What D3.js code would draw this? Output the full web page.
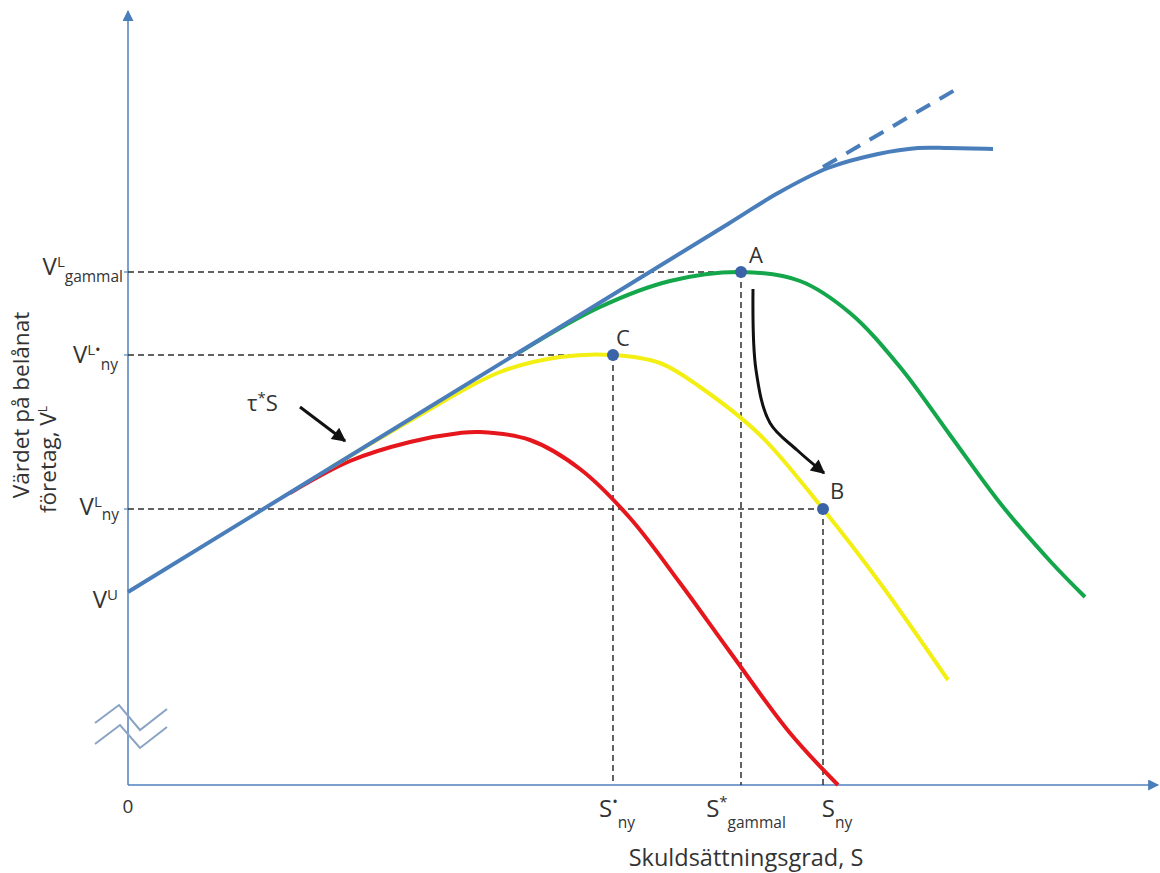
<!DOCTYPE html>
<html><head><meta charset="utf-8">
<script src="https://cdn.jsdelivr.net/npm/d3@7"></script>
<style>body{margin:0;background:#fff;} text{font-family:"Open Sans",sans-serif;fill:#333;}</style>
</head><body>
<svg id="chart" width="1160" height="873"></svg>
<script>
// ---------- data (S = debt ratio, V = firm value), arbitrary units ----------
const blueCurve   = [[0,19.3],[30,37.7],[60,56.1],[65,59.2],[70,61.7],[75,63.1],[79,63.7],[82,63.7],[86.5,63.6]];
const blueDashed  = [[69.5,61.8],[83.2,69.8]];
const greenCurve  = [[39.2,43.3],[47.2,47.8],[54.2,50.4],[61.3,51.3],[67.2,50.4],[72.2,47.2],[77.2,41.8],[82.2,35.0],[87.2,28.2],[92.2,22.4],[95.7,18.8]];
const yellowCurve = [[20.2,31.7],[29.2,37.0],[37.2,41.3],[43.2,42.8],[48.5,43.0],[53.2,42.2],[57.2,39.8],[63.2,35.0],[69.5,27.6],[75.2,20.2],[82.0,10.5]];
const redCurve    = [[16.2,29.2],[22.2,32.4],[28.2,34.3],[33.2,35.2],[35.2,35.3],[40.2,34.5],[45.2,31.6],[50.2,26.7],[55.2,20.2],[60.2,13.3],[66.2,5.2],[71.0,0]];
const pointNames  = ["A","C","B"];
const pointS      = [61.3,48.5,69.5];
const pointV      = [51.3,43.0,27.6];
const arrowAB     = [[62.5,49.6],[62.8,41.5],[64.2,36.2],[66.9,33.5],[69.6,31.2]];
const arrowTau    = [[17.2,37.8],[21.7,34.4]];
const breakMark1  = [[-3.3,6.2],[-0.9,8.0],[1.2,5.5],[3.9,7.6]];
const breakMark2  = [[-3.3,4.1],[-0.8,6.0],[1.2,3.7],[3.9,5.8]];
const yTickValues = [51.3, 43.0, 27.6, 19.3];
const yTickMain   = ["V","V","V","V"];
const yTickSup    = ["L","L•","L","U"];
const yTickSub    = ["gammal","ny","ny",""];
const xTickValues = [0, 48.5, 61.3, 69.5];
const xTickMain   = ["0","S","S","S"];
const xTickSup    = ["","•","*",""];
const xTickSub    = ["","ny","gammal","ny"];
const xTitle      = "Skuldsättningsgrad, S";
const yTitle1     = "Värdet på belånat";
const yTitle2     = "företag, V";
const yTitle2Sup  = "L";
const tauLabel    = ["τ","*","S"];

// ---------- scales ----------
const svg = d3.select("#chart");
const x = d3.scaleLinear().domain([0,102]).range([128,1148]);
const y = d3.scaleLinear().domain([0,77]).range([785,15]);

const defs = svg.append("defs");
function marker(id, color, w, h){
  defs.append("marker").attr("id",id).attr("viewBox","0 0 10 10").attr("refX",9).attr("refY",5)
    .attr("markerUnits","userSpaceOnUse").attr("markerWidth",w).attr("markerHeight",h).attr("orient","auto")
    .append("path").attr("d","M0,0L10,5L0,10Z").attr("fill",color);
}
marker("axArrow","#4a7ebb",13,11);
marker("blkArrow","#111",16,14);

const line = d3.line().x(d=>x(d[0])).y(d=>y(d[1])).curve(d3.curveCatmullRom.alpha(0.5));
const lineL = d3.line().x(d=>x(d[0])).y(d=>y(d[1]));

// axes
svg.append("line").attr("x1",x(0)).attr("y1",y(0)).attr("x2",x(0)).attr("y2",y(77)-4)
  .attr("stroke","#4f81bd").attr("stroke-width",1.5).attr("marker-end","url(#axArrow)");
svg.append("line").attr("x1",x(0)).attr("y1",y(0)).attr("x2",x(102)+10).attr("y2",y(0))
  .attr("stroke","#4f81bd").attr("stroke-width",1.5).attr("marker-end","url(#axArrow)");

// axis break
[breakMark1, breakMark2].forEach(b=>{
  svg.append("path").attr("d",lineL(b)).attr("fill","none").attr("stroke","#8aa3c4").attr("stroke-width",2);
});

// dashed guides
const guide = svg.append("g").attr("stroke","#2f2f2f").attr("stroke-width",1.5).attr("stroke-dasharray","6,4").attr("fill","none");
pointS.forEach((s,i)=>{
  guide.append("line").attr("x1",x(0)).attr("x2",x(s)).attr("y1",y(pointV[i])).attr("y2",y(pointV[i]));
  guide.append("line").attr("x1",x(s)).attr("x2",x(s)).attr("y1",y(pointV[i])).attr("y2",y(0));
});

// curves
svg.append("path").attr("d",line(redCurve)).attr("fill","none").attr("stroke","#e5161c").attr("stroke-width",4);
svg.append("path").attr("d",line(yellowCurve)).attr("fill","none").attr("stroke","#f3ef12").attr("stroke-width",4);
svg.append("path").attr("d",line(greenCurve)).attr("fill","none").attr("stroke","#13a64a").attr("stroke-width",4);
svg.append("path").attr("d",line(blueCurve)).attr("fill","none").attr("stroke","#4a7ebb").attr("stroke-width",4);
svg.append("path").attr("d",lineL(blueDashed)).attr("fill","none").attr("stroke","#4a7ebb").attr("stroke-width",4).attr("stroke-dasharray","16,11");

// points
pointS.forEach((s,i)=>{
  svg.append("circle").attr("cx",x(s)).attr("cy",y(pointV[i])).attr("r",6).attr("fill","#3b64a8");
});
const ptNudge = [[15,-9],[10,-9],[14,-10]];
pointNames.forEach((n,i)=>{
  svg.append("text").attr("x",x(pointS[i])+ptNudge[i][0]).attr("y",y(pointV[i])+ptNudge[i][1])
    .attr("text-anchor","middle").attr("font-size",22).text(n);
});

// arrows
svg.append("path").attr("d",line(arrowAB)).attr("fill","none").attr("stroke","#111").attr("stroke-width",3).attr("marker-end","url(#blkArrow)");
svg.append("path").attr("d",lineL(arrowTau)).attr("fill","none").attr("stroke","#111").attr("stroke-width",3).attr("marker-end","url(#blkArrow)");

// tau*S label
const tau = svg.append("text").attr("x",247).attr("y",411).attr("font-size",22);
tau.append("tspan").text(tauLabel[0]);
tau.append("tspan").attr("dy",-8).attr("font-size",15).text(tauLabel[1]);
tau.append("tspan").attr("dy",8).text(tauLabel[2]);

// y tick labels: [anchor end x, baseline offset, sup dy, sub dy]
const yLblNudge = [[123,3,-8,15],[118,8,-8,15],[119,6,-8,13],[118,16,-8,0]];
yTickValues.forEach((v,i)=>{
  const t = svg.append("text").attr("x",yLblNudge[i][0]).attr("y",y(v)+yLblNudge[i][1])
    .attr("text-anchor","end").attr("font-size",24);
  t.append("tspan").text(yTickMain[i]);
  t.append("tspan").attr("dy",yLblNudge[i][2]).attr("font-size",15).text(yTickSup[i]);
  if (yTickSub[i]) t.append("tspan").attr("dy",yLblNudge[i][3]).attr("font-size",15.5).text(yTickSub[i]);
});
// small ticks
yTickValues.slice(0,3).forEach(v=>{
  svg.append("line").attr("x1",x(0)-4).attr("x2",x(0)).attr("y1",y(v)).attr("y2",y(v)).attr("stroke","#4f81bd").attr("stroke-width",1.2);
});

// x tick labels: [x nudge, baseline offset]
const xLblNudge = [[0,28],[4,32],[5,32],[14,32]];
xTickValues.forEach((v,i)=>{
  const t = svg.append("text").attr("x",x(v)+xLblNudge[i][0]).attr("y",y(0)+xLblNudge[i][1])
    .attr("text-anchor","middle").attr("font-size", i===0?19:24);
  t.append("tspan").text(xTickMain[i]);
  if (xTickSup[i]) {
    t.append("tspan").attr("dy",-10).attr("font-size",15).text(xTickSup[i]);
    t.append("tspan").attr("dy",21).attr("font-size",15.5).text(xTickSub[i]);
  } else if (xTickSub[i]) {
    t.append("tspan").attr("dy",11).attr("font-size",15.5).text(xTickSub[i]);
  }
});

// titles
svg.append("text").attr("x",746).attr("y",866).attr("text-anchor","middle").attr("font-size",23.5).text(xTitle);
svg.append("text").attr("transform","translate(29,405) rotate(-90)").attr("text-anchor","middle").attr("font-size",22.5).text(yTitle1);
const yt2 = svg.append("text").attr("transform","translate(56,513) rotate(-90)").attr("text-anchor","start").attr("font-size",22.5);
yt2.append("tspan").text(yTitle2);
yt2.append("tspan").attr("dy",-9).attr("font-size",12).text(yTitle2Sup);
</script>
</body></html>
